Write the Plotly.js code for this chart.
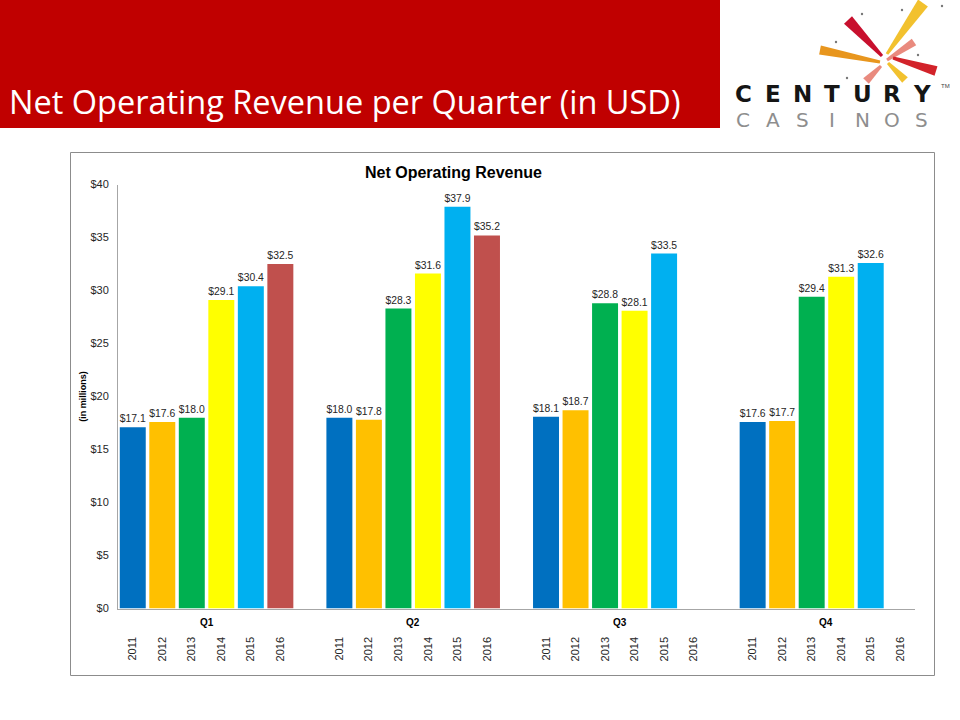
<!DOCTYPE html>
<html><head><meta charset="utf-8">
<script src="https://cdn.plot.ly/plotly-3.0.1.min.js"></script>
<style>html,body{margin:0;padding:0;background:#fff}#chart{width:960px;height:720px}</style>
</head><body><div id="chart"></div>
<script>
// ---- data ----
const quarters = ["Q1", "Q2", "Q3", "Q4"];
const years = ["2011", "2012", "2013", "2014", "2015", "2016"];
const rev2011 = [17.1, 18.0, 18.1, 17.6];
const rev2012 = [17.6, 17.8, 18.7, 17.7];
const rev2013 = [18.0, 28.3, 28.8, 29.4];
const rev2014 = [29.1, 31.6, 28.1, 31.3];
const rev2015 = [30.4, 37.9, 33.5, 32.6];
const rev2016 = [32.5, 35.2, null, null];
const yTickVals = [0, 5, 10, 15, 20, 25, 30, 35, 40];
const yTickText = ["$0", "$5", "$10", "$15", "$20", "$25", "$30", "$35", "$40"];
const chartTitle = "Net Operating Revenue";
const pageTitle = "Net Operating Revenue per Quarter (in USD)";
const yTitle = "(in millions)";
const logoTop = "CENTURY";
const logoBottom = "CASINOS";

const series = [rev2011, rev2012, rev2013, rev2014, rev2015, rev2016];
const colors = ["#0070C0", "#FFC000", "#00B050", "#FFFF00", "#00B0F0", "#C0504D"];
const SLOT = 7; // 6 years + 1 blank slot per quarter group

const W = 960, H = 720;
const px = x => x / W, py = y => 1 - y / H;

const FONT = "Liberation Sans, Arial, sans-serif";
const traces = years.map((yr, j) => ({
  type: "bar",
  name: yr,
  x: quarters.map((q, g) => g * SLOT + j),
  y: series[j],
  width: 0.88,
  marker: { color: colors[j], line: { width: 0 } },
  texttemplate: "$%{y:.1f}",
  textposition: "outside",
  textfont: { family: FONT, size: 11, color: "#262626" },
  cliponaxis: false,
  hoverinfo: "x+y"
}));

const tickvals = [], ticktext = [];
quarters.forEach((q, g) => years.forEach((yr, j) => { tickvals.push(g * SLOT + j); ticktext.push(yr); }));

const shapes = [
  // red header band
  { type: "rect", xref: "paper", yref: "paper", x0: 0, x1: px(720), y0: py(128), y1: 1, fillcolor: "#C00000", line: { width: 0 }, layer: "below" },
  // chart frame
  { type: "rect", xref: "paper", yref: "paper", x0: px(70.5), x1: px(934.5), y0: py(675.5), y1: py(152.5), fillcolor: "rgba(0,0,0,0)", line: { color: "#8C8C8C", width: 1 } }
];

// logo starburst strokes (tapered)
function stroke(x1, y1, x2, y2, w1, w2, color) {
  const dx = x2 - x1, dy = y2 - y1, L = Math.hypot(dx, dy);
  const nx = -dy / L, ny = dx / L;
  const p = [[x1 + nx * w1 / 2, y1 + ny * w1 / 2], [x2 + nx * w2 / 2, y2 + ny * w2 / 2],
             [x2 - nx * w2 / 2, y2 - ny * w2 / 2], [x1 - nx * w1 / 2, y1 - ny * w1 / 2]];
  const path = "M" + p.map(a => px(a[0]).toFixed(5) + "," + py(a[1]).toFixed(5)).join(" L") + " Z";
  shapes.push({ type: "path", xref: "paper", yref: "paper", path, fillcolor: color, line: { width: 0 } });
}
stroke(848, 20, 882, 56, 11, 3, "#C8102E");
stroke(923, 3, 887, 54, 12, 3, "#F2C12E");
stroke(820, 50, 880, 62, 9, 3, "#E8961E");
stroke(914, 42, 887, 60, 8, 3, "#E98A7E");
stroke(936, 71, 893, 58, 10, 3, "#D2232A");
stroke(905, 80, 888, 63, 8, 3, "#F2C12E");
stroke(866, 81, 881, 66, 8, 3, "#E98A7E");
[[862, 14], [902, 10], [836, 42], [918, 55], [847, 78], [942, 6]].forEach(d =>
  shapes.push({ type: "circle", xref: "paper", yref: "paper", x0: px(d[0] - 1.2), x1: px(d[0] + 1.2), y0: py(d[1] + 1.2), y1: py(d[1] - 1.2), fillcolor: "#777", line: { width: 0 } }));

const annotations = [
  { text: pageTitle, xref: "paper", yref: "paper", x: px(7), y: py(102), xanchor: "left", yanchor: "middle", showarrow: false,
    font: { family: "Open Sans, sans-serif", size: 32.5, color: "#FFFFFF" } },
  { text: "<b>" + chartTitle + "</b>", xref: "paper", yref: "paper", x: px(453), y: py(172), xanchor: "center", yanchor: "middle", showarrow: false,
    font: { family: FONT, size: 16, color: "#000" } },
  { text: "TM", xref: "paper", yref: "paper", x: px(945), y: py(86), xanchor: "center", yanchor: "middle", showarrow: false,
    font: { family: FONT, size: 6, color: "#444" } }
];
// quarter group labels
quarters.forEach((q, g) => annotations.push({
  text: "<b>" + q + "</b>", xref: "x", yref: "paper", x: g * SLOT + 2.5, y: py(622), xanchor: "center", yanchor: "middle", showarrow: false,
  font: { family: FONT, size: 10, color: "#000" }
}));
// logo wordmark, one letter per box to reproduce the wide spacing
logoTop.split("").forEach((c, i) => annotations.push({
  text: "<b>" + c + "</b>", xref: "paper", yref: "paper", x: px(743 + i * 29.8), y: py(94), xanchor: "center", yanchor: "middle", showarrow: false,
  font: { family: "DejaVu Sans, sans-serif", size: 23, color: "#151515" }
}));
logoBottom.split("").forEach((c, i) => annotations.push({
  text: c, xref: "paper", yref: "paper", x: px(743 + i * 29.8), y: py(120), xanchor: "center", yanchor: "middle", showarrow: false,
  font: { family: "DejaVu Sans, sans-serif", size: 20, color: "#8E8E8E" }
}));

const layout = {
  width: W, height: H,
  margin: { l: 0, r: 0, t: 0, b: 0 },
  paper_bgcolor: "#fff", plot_bgcolor: "#fff",
  showlegend: false,
  barmode: "overlay",
  xaxis: {
    domain: [px(118), px(915)],
    range: [-0.5, 4 * SLOT - 1 - 0.5],
    tickmode: "array", tickvals, ticktext, tickangle: -90,
    tickfont: { family: FONT, size: 11, color: "#262626" },
    ticks: "outside", ticklen: 23, tickcolor: "rgba(0,0,0,0)",
    showline: true, linecolor: "#A6A6A6", linewidth: 1,
    showgrid: false, zeroline: false, automargin: false, fixedrange: true
  },
  yaxis: {
    domain: [py(608.5), py(184.5)],
    range: [0, 40],
    tickmode: "array", tickvals: yTickVals, ticktext: yTickText,
    tickfont: { family: FONT, size: 11, color: "#262626" },
    ticks: "outside", ticklen: 6, tickcolor: "rgba(0,0,0,0)",
    showline: true, linecolor: "#A6A6A6", linewidth: 1,
    showgrid: false, zeroline: false, automargin: false, fixedrange: true,
    title: { text: "<b>" + yTitle + "</b>", font: { family: FONT, size: 9, color: "#000" }, standoff: 2 }
  },
  shapes, annotations
};

Plotly.newPlot("chart", traces, layout, { displayModeBar: false, staticPlot: true });
</script></body></html>
